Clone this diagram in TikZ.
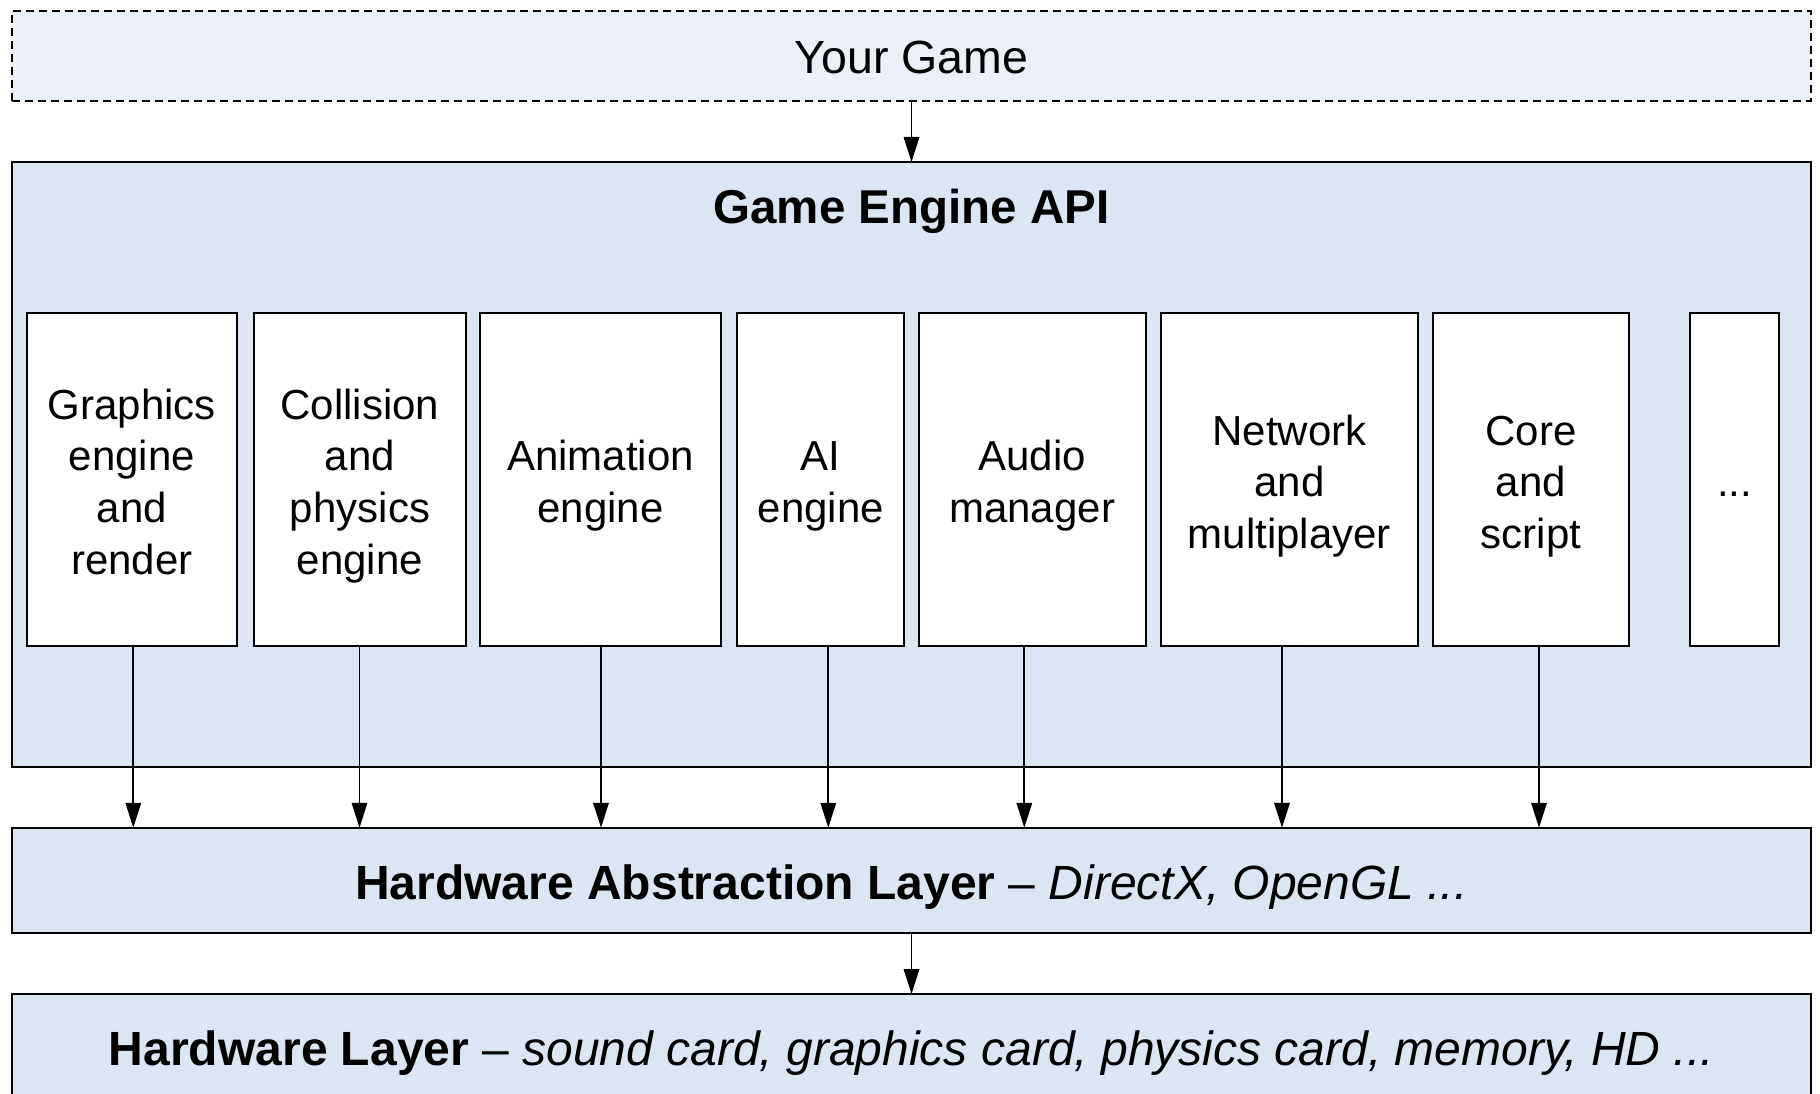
\documentclass[tikz,border=0pt]{standalone}
\usepackage{fontspec}
\setmainfont{Liberation Sans}
\usetikzlibrary{arrows.meta}
\definecolor{gamefill}{RGB}{235,240,248}
\definecolor{enginefill}{RGB}{220,230,242}
\newcommand{\tstrut}{\rule{0pt}{48.6pt}}
\newcommand{\bstrut}{\rule[-14pt]{0pt}{14pt}}
\tikzset{
  layerbox/.style={draw=black, line width=1.9pt, fill=enginefill, inner sep=0pt, outer sep=0pt},
  modbox/.style={draw=black, line width=1.9pt, fill=white, inner sep=0pt, outer sep=0pt,
     minimum height=333pt, align=center, font=\fontsize{42}{51.7}\selectfont},
  bigtext/.style={font=\fontsize{48}{56}\selectfont, inner sep=0pt, anchor=base},
  arr/.style={line width=1.8pt, -{Triangle[length=25pt,width=15.5pt]}}
}
\begin{document}
\begin{tikzpicture}[x=1pt, y=-1pt]
\useasboundingbox (0,0) rectangle (1820,1094);
\clip (0,0) rectangle (1820,1094);
% Your Game
\node[draw=black, line width=2pt, dash pattern=on 8pt off 5pt, fill=gamefill,
      minimum width=1799pt, minimum height=90pt, inner sep=0pt, outer sep=0pt] (game) at (911.5,56) {};
\node[font=\fontsize{46.5}{55}\selectfont, inner sep=0pt, anchor=base] (gametxt) at (911.5,74) {Your Game};
% Engine
\node[layerbox, minimum width=1799pt, minimum height=605pt] (engine) at (911.5,464.5) {};
\node[bigtext, font=\fontsize{47.5}{56}\selectfont] (enginetxt) at (911.5,224) {\bfseries Game Engine API};
% modules
\node[modbox, minimum width=210.3pt] (m1) at (131.85,479.5) {\tstrut Graphics\\engine\\and\\render\bstrut};
\node[modbox, minimum width=212pt] (m2) at (360,479.5) {\tstrut Collision\\and\\physics\\engine\bstrut};
\node[modbox, minimum width=241pt] (m3) at (600.5,479.5) {\tstrut Animation\\engine\bstrut};
\node[modbox, minimum width=167pt] (m4) at (820.8,479.5) {\tstrut AI\\engine\bstrut};
\node[modbox, minimum width=227pt] (m5) at (1032.15,479.5) {\tstrut Audio\\manager\bstrut};
\node[modbox, minimum width=257.3pt] (m6) at (1289.35,479.5) {\tstrut Network\\and\\multiplayer\bstrut};
\node[modbox, minimum width=196pt] (m7) at (1531,479.5) {\tstrut Core\\and\\script\bstrut};
\node[modbox, minimum width=89pt] (m8) at (1734.5,479.5) {\tstrut...\bstrut};
% HAL
\node[layerbox, minimum width=1799pt, minimum height=105.5pt] (hal) at (911.5,880.5) {};
\node[bigtext] (haltxt) at (911.5,899.7) {\textbf{Hardware Abstraction Layer} -- \textit{DirectX, OpenGL ...}};
% Hardware
\node[layerbox, minimum width=1799pt, minimum height=130pt] (hw) at (911.5,1059) {};
\node[bigtext] (hwtxt) at (911.5,1065.5) {\textbf{Hardware Layer} -- \textit{sound card, graphics card, physics card, memory, HD ...}};
% arrows
\draw[arr] (game.south) -- (engine.north);
\draw[arr] ([xshift=1.45pt]m1.south) -- ([xshift=1.45pt]m1.south |- hal.north);
\draw[arr] ([xshift=-0.5pt]m2.south) -- ([xshift=-0.5pt]m2.south |- hal.north);
\draw[arr] ([xshift=0.5pt]m3.south) -- ([xshift=0.5pt]m3.south |- hal.north);
\draw[arr] ([xshift=7.5pt]m4.south) -- ([xshift=7.5pt]m4.south |- hal.north);
\draw[arr] ([xshift=-7.85pt]m5.south) -- ([xshift=-7.85pt]m5.south |- hal.north);
\draw[arr] ([xshift=-7.35pt]m6.south) -- ([xshift=-7.35pt]m6.south |- hal.north);
\draw[arr] ([xshift=8pt]m7.south) -- ([xshift=8pt]m7.south |- hal.north);
\draw[arr] (hal.south) -- (hw.north);
\end{tikzpicture}
\end{document}
